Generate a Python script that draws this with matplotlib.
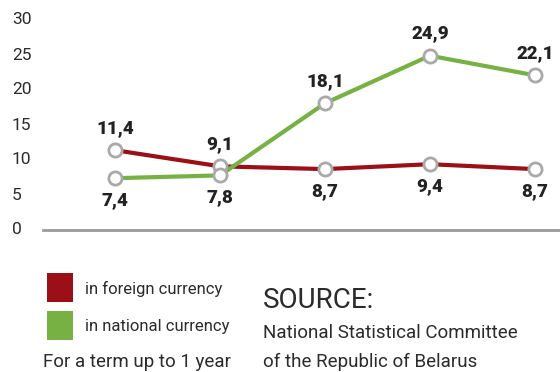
import numpy as np
import matplotlib.pyplot as plt
from matplotlib.patches import Rectangle

# short-term deposit rates, %, for a term up to 1 year
periods = ["p1", "p2", "p3", "p4", "p5"]
foreign = [11.4, 9.1, 8.7, 9.4, 8.7]
national = [7.4, 7.8, 18.1, 24.9, 22.1]
foreign_label_pos = ["above", "above", "below", "below", "below"]
national_label_pos = ["below", "below", "above", "above", "above"]
yticks = [0, 5, 10, 15, 20, 25, 30]
legend_labels = ["in foreign currency", "in national currency"]

RED = "#9b1016"
GREEN = "#77b043"
MARKER_EDGE = "#a9a9a9"
TEXT = "#2b2b2b"

plt.rcParams["font.family"] = ["Roboto", "DejaVu Sans"]

W, H = 560, 372
fig = plt.figure(figsize=(W / 100, H / 100), dpi=100)
ax = fig.add_axes([43 / W, 142 / H, 1 - 43 / W, 210 / H])

x = np.arange(len(periods))
for vals, color in [(foreign, RED), (national, GREEN)]:
    ax.plot(x, vals, color=color, lw=3, solid_capstyle="butt", zorder=2)
    ax.plot(x, vals, ls="none", marker="o", ms=9.5, mfc="white",
            mec=MARKER_EDGE, mew=2, zorder=3)

for vals, pos in [(foreign, foreign_label_pos), (national, national_label_pos)]:
    for xi, v, p in zip(x, vals, pos):
        dy = 16 if p == "above" else -16
        ax.annotate(f"{v:.1f}".replace(".", ","), (xi, v), xytext=(0, dy),
                    textcoords="offset points", ha="center", va="center",
                    fontsize=13.5, fontweight="heavy", color="#222222")

ax.set_xlim(-0.686, 4.24)
ax.set_ylim(0, 30)
ax.set_xticks([])
ax.set_yticks([])
for s in ["top", "right", "left"]:
    ax.spines[s].set_visible(False)
ax.spines["bottom"].set_color("#9a9a9a")
ax.spines["bottom"].set_linewidth(2)
ax.patch.set_alpha(0)

# y tick labels, left aligned near the figure edge
for t in yticks:
    ax.text(-31 / (W - 43), t, str(t), transform=ax.get_yaxis_transform(),
            ha="left", va="center", fontsize=12.5, color=TEXT, clip_on=False)

# legend: colour squares with captions
for i, (label, color) in enumerate(zip(legend_labels, [RED, GREEN])):
    top = 273 + i * 38
    fig.add_artist(Rectangle((47 / W, 1 - (top + 29) / H), 26 / W, 29 / H,
                             transform=fig.transFigure, color=color, lw=0))
    fig.text(85 / W, 1 - (top + 16) / H, label, ha="left", va="center",
             fontsize=12, color=TEXT)

fig.text(43 / W, 1 - 362 / H, "For a term up to 1 year", ha="left", va="center",
         fontsize=13.5, color=TEXT)
fig.text(263 / W, 1 - 300 / H, "SOURCE:", ha="left", va="center",
         fontsize=20, color=TEXT)
fig.text(263 / W, 1 - 333 / H, "National Statistical Committee", ha="left",
         va="center", fontsize=13.5, color=TEXT)
fig.text(263 / W, 1 - 362 / H, "of the Republic of Belarus", ha="left",
         va="center", fontsize=13.5, color=TEXT)

fig.savefig("out.png", dpi=100)
